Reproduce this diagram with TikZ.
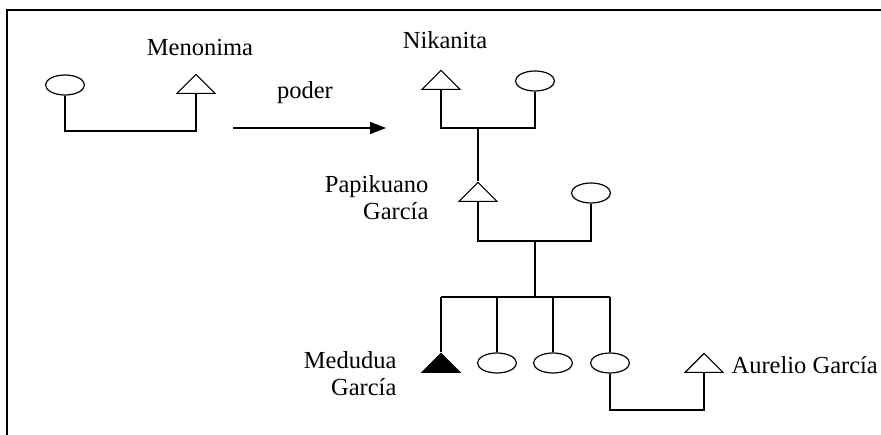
\documentclass[tikz,border=0pt]{standalone}
\usepackage{fontspec}
\setmainfont{Liberation Serif}
\usetikzlibrary{shapes.geometric,arrows.meta}
\begin{document}
\begin{tikzpicture}[x=1pt,y=-1pt,line width=1.2pt,
        txt/.style={inner sep=0pt,font=\fontsize{24.5}{27}\selectfont},
        fem/.style={ellipse,draw,minimum width=39pt,minimum height=20pt,inner sep=0pt},
        mal/.style={isosceles triangle,isosceles triangle stretches,shape border rotate=90,
            draw,minimum width=38pt,minimum height=19pt,inner sep=0pt,anchor=south},
        ego/.style={mal,fill=black},
        arr/.style={-{Triangle[length=16pt,width=12pt]}}]
            \useasboundingbox (0,0) rectangle (881,435);
            \draw[line width=2pt] (881,10) -- (7,10) -- (7,435);
            % first couple
            \node[fem] (menF) at (65,85) {};
            \node[mal] (menM) at (196,94) {};
            \node[txt] (lMen) at (200,48) {Menonima};
            \coordinate (jMen) at (130,131);
            \draw (menF.south) |- (jMen) -| (menM.south);
            % power
            \coordinate (pA) at (233,128);
            \coordinate (pB) at (386,128);
            \draw[arr] (pA) -- (pB);
            \node[txt] (lPod) at (305,93) {poder};
            % Nikanita
            \node[mal] (nikM) at (441,90) {};
            \node[fem] (nikF) at (535,81) {};
            \node[txt] (lNik) at (445,40) {Nikanita};
            \coordinate (jNik) at (478,128);
            \draw (nikM.south) |- (jNik) -| (nikF.south);
            % Papikuano
            \node[mal] (papM) at (478,202) {};
            \node[fem] (papF) at (591,193) {};
            \node[txt,align=right,anchor=east] (lPap) at (429,198) {Papikuano\\García};
            \draw (jNik) -- (papM.north);
            \coordinate (jPap) at (535,241);
            \coordinate (jKid) at (535,297);
            \draw (papM.south) |- (jPap) -| (papF.south);
            \draw (jPap) -- (jKid);
            % children
            \node[ego] (med) at (441,373) {};
            \node[fem] (k1) at (497,363) {};
            \node[fem] (k2) at (553,363) {};
            \node[fem] (k3) at (610,363) {};
            \node[txt,align=right,anchor=east] (lMed) at (397,374) {Medudua\\García};
            \draw (med.north |- jKid) -- (k3.north |- jKid);
            \foreach \k in {med,k1,k2,k3}
                \draw (\k.north) -- (\k.north |- jKid);
            % Aurelio
            \node[mal] (aur) at (704,373) {};
            \node[txt,anchor=west] (lAur) at (731,365) {Aurelio García};
            \coordinate (jAur) at (650,410);
            \draw (k3.south) |- (jAur) -| (aur.south);
        \end{tikzpicture}
\end{document}
